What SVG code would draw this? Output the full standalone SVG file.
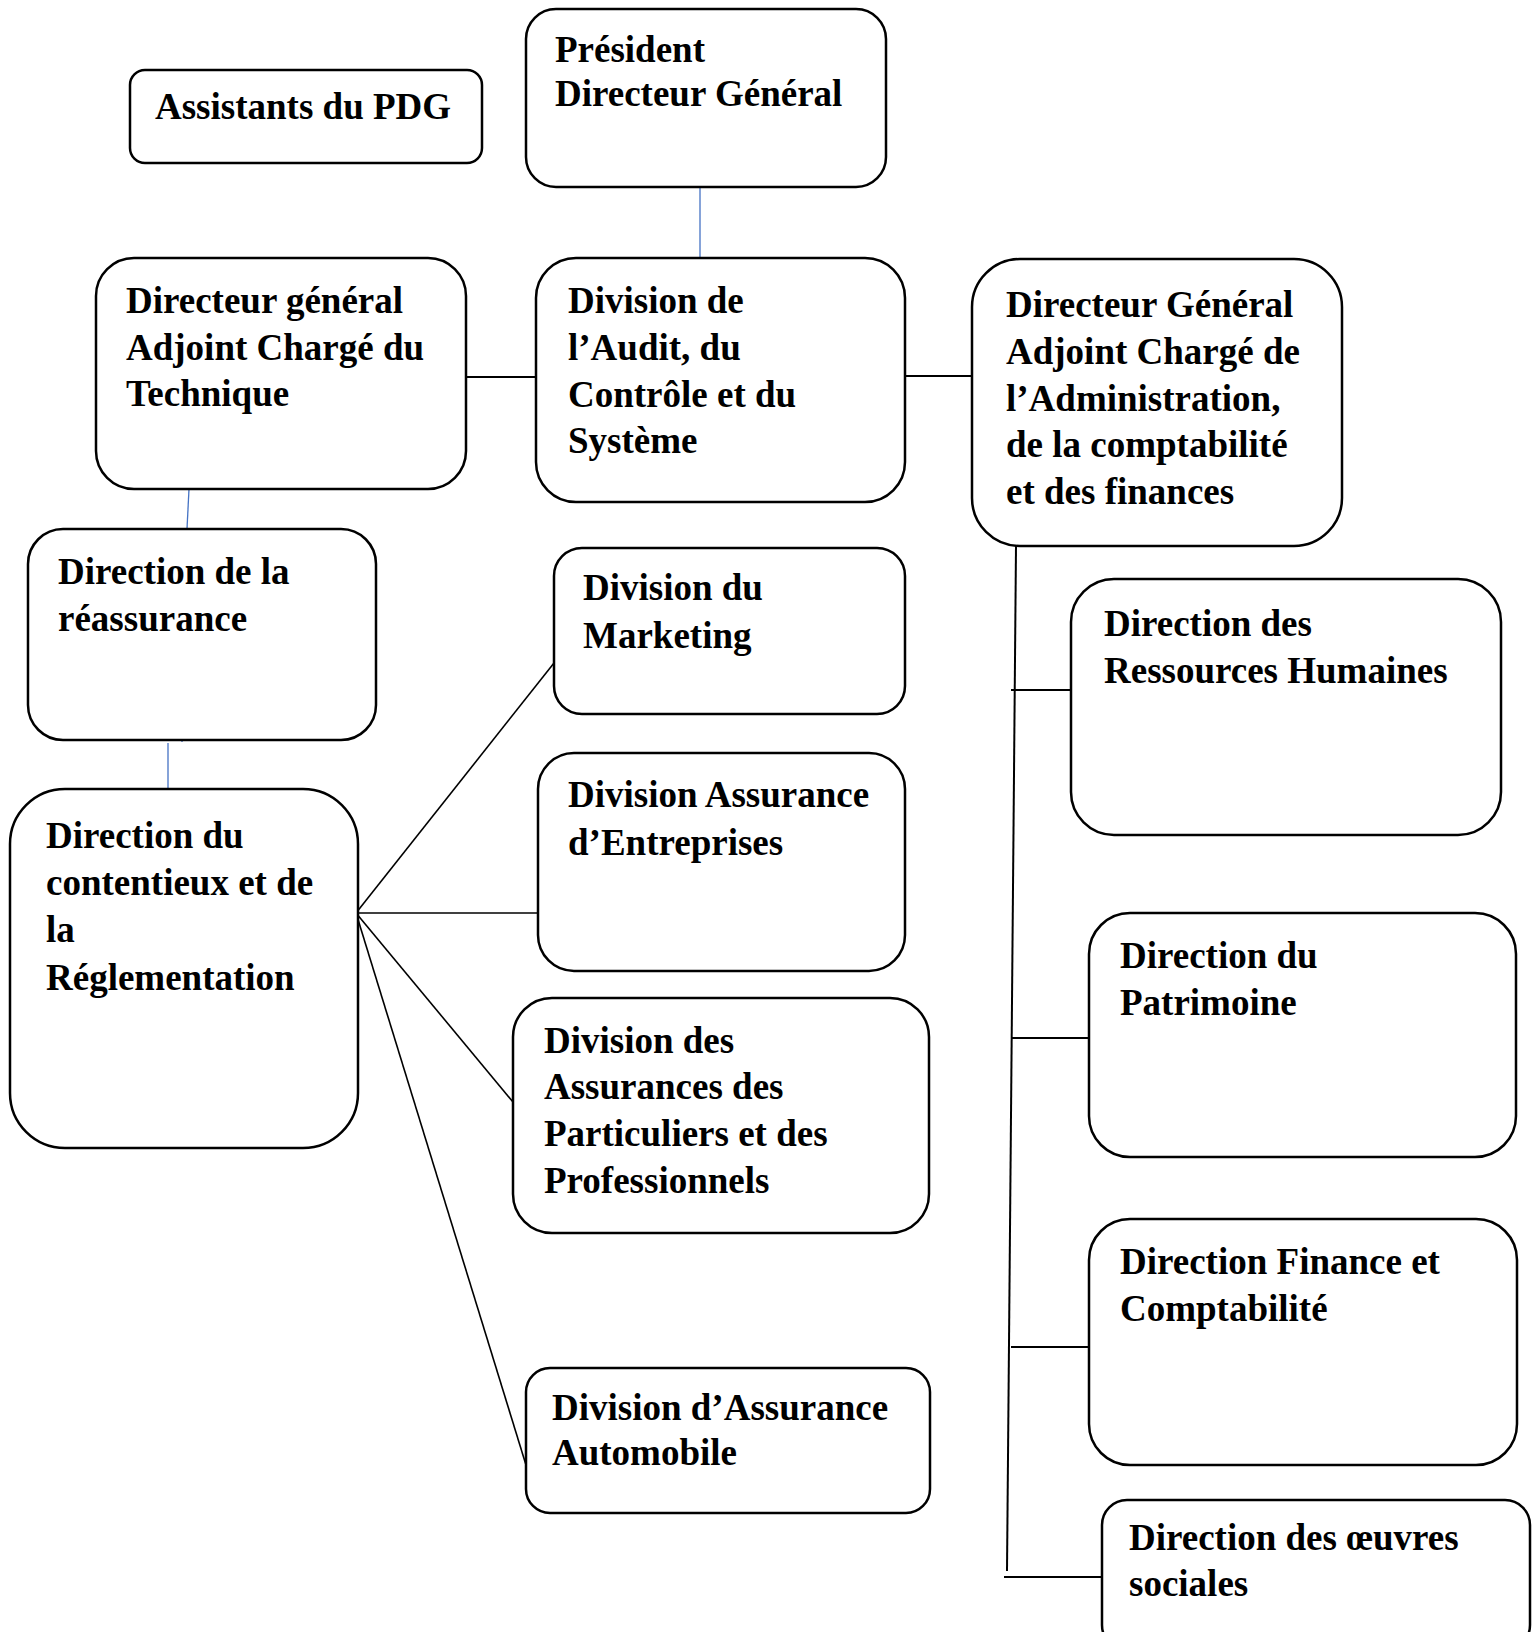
<svg xmlns="http://www.w3.org/2000/svg" width="1533" height="1632" viewBox="0 0 1533 1632">
<style>
.box{fill:#fff;stroke:#000;stroke-width:2.5}
.t{font-family:"Liberation Serif","Times New Roman",serif;font-weight:bold;font-size:37px;fill:#000}
.c{stroke:#000;stroke-width:2;fill:none}
.f{stroke:#000;stroke-width:1.6;fill:none}
.b{stroke:#4472C4;stroke-width:1.3;fill:none}
</style>
<rect width="1533" height="1632" fill="#fff"/>
<g id="connectors">
<line class="b" x1="700" y1="187" x2="700" y2="258"/>
<line class="b" x1="189" y1="489" x2="187" y2="529"/>
<line class="b" x1="168" y1="743" x2="168" y2="791"/>
<line class="b" x1="182" y1="738" x2="182" y2="742"/>
<line class="c" x1="466" y1="377" x2="537" y2="377"/>
<line class="c" x1="901" y1="376" x2="972" y2="376"/>
<line class="c" x1="1016" y1="546" x2="1007" y2="1571"/>
<line class="c" x1="1011" y1="690" x2="1071" y2="690"/>
<line class="c" x1="1012" y1="1038" x2="1089" y2="1038"/>
<line class="c" x1="1011" y1="1347" x2="1089" y2="1347"/>
<line class="c" x1="1004" y1="1577" x2="1102" y2="1577"/>
<line class="f" x1="356" y1="913" x2="554" y2="663"/>
<line class="f" x1="356" y1="913" x2="538" y2="913"/>
<line class="f" x1="356" y1="913" x2="513" y2="1102"/>
<line class="f" x1="356" y1="913" x2="526" y2="1465"/>
</g>
<g id="assistants">
<rect class="box" x="130" y="70" width="352" height="93" rx="15"/>
<text class="t" x="155" y="119">Assistants du PDG</text>
</g>
<g id="pdg">
<rect class="box" x="526" y="9" width="360" height="178" rx="30"/>
<text class="t" x="555" y="62">Président</text>
<text class="t" x="555" y="106">Directeur Général</text>
</g>
<g id="dga-technique">
<rect class="box" x="96" y="258" width="370" height="231" rx="38"/>
<text class="t" x="126" y="313">Directeur général</text>
<text class="t" x="126" y="360">Adjoint Chargé du</text>
<text class="t" x="126" y="406">Technique</text>
</g>
<g id="audit">
<rect class="box" x="536" y="258" width="369" height="244" rx="40"/>
<text class="t" x="568" y="313">Division de</text>
<text class="t" x="568" y="360">l’Audit, du</text>
<text class="t" x="568" y="407">Contrôle et du</text>
<text class="t" x="568" y="453">Système</text>
</g>
<g id="dga-admin">
<rect class="box" x="972" y="259" width="370" height="287" rx="48"/>
<text class="t" x="1006" y="317">Directeur Général</text>
<text class="t" x="1006" y="364">Adjoint Chargé de</text>
<text class="t" x="1006" y="411">l’Administration,</text>
<text class="t" x="1006" y="457">de la comptabilité</text>
<text class="t" x="1006" y="504">et des finances</text>
</g>
<g id="reassurance">
<rect class="box" x="28" y="529" width="348" height="211" rx="35"/>
<text class="t" x="58" y="584">Direction de la</text>
<text class="t" x="58" y="631">réassurance</text>
</g>
<g id="contentieux">
<rect class="box" x="10" y="789" width="348" height="359" rx="55"/>
<text class="t" x="46" y="848">Direction du</text>
<text class="t" x="46" y="895">contentieux et de</text>
<text class="t" x="46" y="942">la</text>
<text class="t" x="46" y="990">Réglementation</text>
</g>
<g id="marketing">
<rect class="box" x="554" y="548" width="351" height="166" rx="28"/>
<text class="t" x="583" y="600">Division du</text>
<text class="t" x="583" y="648">Marketing</text>
</g>
<g id="entreprises">
<rect class="box" x="538" y="753" width="367" height="218" rx="36"/>
<text class="t" x="568" y="807">Division Assurance</text>
<text class="t" x="568" y="855">d’Entreprises</text>
</g>
<g id="particuliers">
<rect class="box" x="513" y="998" width="416" height="235" rx="39"/>
<text class="t" x="544" y="1053">Division des</text>
<text class="t" x="544" y="1099">Assurances des</text>
<text class="t" x="544" y="1146">Particuliers et des</text>
<text class="t" x="544" y="1193">Professionnels</text>
</g>
<g id="automobile">
<rect class="box" x="526" y="1368" width="404" height="145" rx="24"/>
<text class="t" x="552" y="1420">Division d’Assurance</text>
<text class="t" x="552" y="1465">Automobile</text>
</g>
<g id="rh">
<rect class="box" x="1071" y="579" width="430" height="256" rx="43"/>
<text class="t" x="1104" y="636">Direction des</text>
<text class="t" x="1104" y="683">Ressources Humaines</text>
</g>
<g id="patrimoine">
<rect class="box" x="1089" y="913" width="427" height="244" rx="41"/>
<text class="t" x="1120" y="968">Direction du</text>
<text class="t" x="1120" y="1015">Patrimoine</text>
</g>
<g id="finance">
<rect class="box" x="1089" y="1219" width="428" height="246" rx="41"/>
<text class="t" x="1120" y="1274">Direction Finance et</text>
<text class="t" x="1120" y="1321">Comptabilité</text>
</g>
<g id="oeuvres">
<rect class="box" x="1102" y="1500" width="428" height="150" rx="25"/>
<text class="t" x="1129" y="1550">Direction des œuvres</text>
<text class="t" x="1129" y="1596">sociales</text>
</g>
</svg>
